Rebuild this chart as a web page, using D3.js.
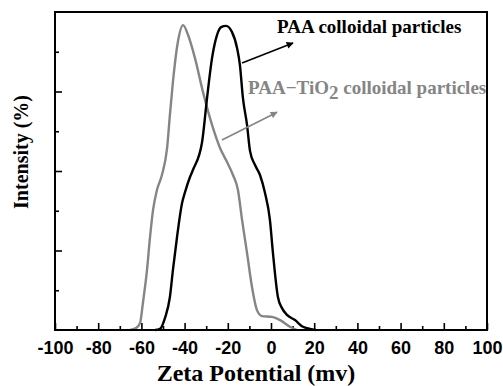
<!DOCTYPE html>
<html>
<head>
<meta charset="utf-8">
<script src="https://cdn.jsdelivr.net/npm/d3@7"></script>
<style>
body { margin: 0; background: #fff; }
</style>
</head>
<body>
<div id="chart-area"></div>
<script>
// Values (zeta potential in mv, intensity in %)
let paaX = [-53.7, -51.4, -49.1, -46.8, -45.4, -43.5, -41.2, -39.8, -37.5, -36.1, -31.9, -29.6, -27.3, -25, -23.1, -20.8,
    -18.1, -15.7, -14.4, -13, -11.1, -9.7, -7.4, -5.1, -2.8, -0.5, 0.9, 3.2, 5.1, 7.4, 11.1, 14.8, 18.1, 20.8];
let paaY = [0, 0.03, 0.3, 0.83, 1.51, 2.34, 3.19, 3.47, 3.85, 4.03, 4.73, 5.84, 6.84, 7.42, 7.62, 7.65,
    7.5, 7.09, 6.67, 5.84, 5.16, 4.5, 4.15, 3.9, 3.45, 2.77, 1.94, 0.83, 0.55, 0.38, 0.25, 0.08, 0.03, 0];

let tioX = [-65.3, -62.5, -60.6, -59.3, -57.4, -56, -54.6, -52.8, -50.5, -48.1, -46.8, -45.4, -43.1, -40.7, -38.4, -35.2,
    -31.5, -27.3, -23.6, -20.4, -17.6, -15.3, -13.4, -11.1, -8.8, -6.5, -4.2, 0.5, 4.2, 8.8, 12];
let tioY = [0, 0.05, 0.18, 0.68, 1.51, 2.34, 3.02, 3.52, 3.9, 4.58, 5.41, 6.24, 7.25, 7.67, 7.42, 6.84,
    5.99, 5.16, 4.58, 4.23, 3.9, 3.52, 2.77, 1.94, 1.08, 0.5, 0.35, 0.33, 0.25, 0.08, 0];

let xTickLabels = [-100, -80, -60, -40, -20, 0, 20, 40, 60, 80, 100];
let xMinorTicks = [-90, -70, -50, -30, -10, 10, 30, 50, 70, 90];
let yMajorTicks = [2, 4, 6];
let yMinorTicks = [1, 3, 5, 7];

// SVG drawing area
let margin = {top: 12, right: 16, bottom: 56, left: 55};
let width = 503 - margin.left - margin.right,
    height = 386 - margin.top - margin.bottom;

let root = d3.select("#chart-area").append("svg")
    .attr("width", 503)
    .attr("height", 386);

let svg = root.append("g")
    .attr("transform", "translate(" + margin.left + "," + margin.top + ")");

// Scales
let x = d3.scaleLinear().domain([-100, 100]).range([0, width]);
let y = d3.scaleLinear().domain([0, 8]).range([height, 0]);

// arrow heads
let defs = root.append("defs");
[["head-black", "#000"], ["head-gray", "#858585"]].forEach(([id, c]) => {
    defs.append("marker")
        .attr("id", id)
        .attr("viewBox", "0 0 10 10")
        .attr("refX", 9)
        .attr("refY", 5)
        .attr("markerUnits", "userSpaceOnUse")
        .attr("markerWidth", 10)
        .attr("markerHeight", 7)
        .attr("orient", "auto")
      .append("path")
        .attr("d", "M0,0 L10,5 L0,10 z")
        .attr("fill", c);
});

// Axes (ticks point inward)
let xAxis = svg.append("g")
    .attr("class", "x-axis")
    .attr("transform", `translate(0,${height})`)
    .call(d3.axisBottom(x).tickValues(xTickLabels).tickSize(-7).tickPadding(11).tickFormat(d3.format("d")));
xAxis.selectAll("text")
    .attr("font-family", "'Liberation Sans', Arial, sans-serif")
    .attr("font-weight", "bold")
    .attr("font-size", 18)
    .attr("fill", "#000")
    .text(d => d < 0 ? "-" + Math.abs(d) : d);

svg.append("g")
    .attr("transform", `translate(0,${height})`)
    .call(d3.axisBottom(x).tickValues(xMinorTicks).tickSize(-4).tickFormat(""));

svg.append("g")
    .call(d3.axisLeft(y).tickValues(yMajorTicks).tickSize(-7).tickFormat(""));
svg.append("g")
    .call(d3.axisLeft(y).tickValues(yMinorTicks).tickSize(-4).tickFormat(""));

svg.selectAll(".domain").remove();
svg.selectAll(".tick line").attr("stroke", "#000").attr("stroke-width", 1.6);

// Lines
let line = d3.line()
    .x(d => x(d[0]))
    .y(d => y(d[1]))
    .curve(d3.curveMonotoneX);

svg.append("path")
    .datum(d3.zip(tioX, tioY))
    .attr("fill", "none")
    .attr("stroke", "#858585")
    .attr("stroke-width", 2.4)
    .attr("d", line);

svg.append("path")
    .datum(d3.zip(paaX, paaY))
    .attr("fill", "none")
    .attr("stroke", "#000")
    .attr("stroke-width", 2.4)
    .attr("d", line);

// Frame
svg.append("rect")
    .attr("width", width)
    .attr("height", height)
    .attr("fill", "none")
    .attr("stroke", "#000")
    .attr("stroke-width", 2);

// Annotation arrows
svg.append("line")
    .attr("x1", x(-13.4)).attr("y1", y(6.72))
    .attr("x2", x(10.2)).attr("y2", y(7.22))
    .attr("stroke", "#000")
    .attr("stroke-width", 1.6)
    .attr("marker-end", "url(#head-black)");

svg.append("line")
    .attr("x1", x(-22.7)).attr("y1", y(4.78))
    .attr("x2", x(2.8)).attr("y2", y(5.48))
    .attr("stroke", "#858585")
    .attr("stroke-width", 1.6)
    .attr("marker-end", "url(#head-gray)");

let serif = "'Liberation Serif', 'Times New Roman', serif";

svg.append("text")
    .attr("x", x(2.8))
    .attr("y", y(7.47))
    .attr("font-family", serif)
    .attr("font-weight", "bold")
    .attr("font-size", 19)
    .attr("fill", "#000")
    .text("PAA colloidal particles");

let gl = svg.append("text")
    .attr("x", x(-10.6))
    .attr("y", y(5.94))
    .attr("font-family", serif)
    .attr("font-weight", "bold")
    .attr("font-size", 19)
    .attr("fill", "#858585");
gl.append("tspan").text("PAA\u2212TiO");
gl.append("tspan").attr("dy", 5).text("2");
gl.append("tspan").attr("dy", -5).text(" colloidal particles");

// Axis titles
root.append("text")
    .attr("x", 256)
    .attr("y", 381)
    .attr("text-anchor", "middle")
    .attr("font-family", serif)
    .attr("font-weight", "bold")
    .attr("font-size", 24)
    .text("Zeta Potential (mv)");

root.append("text")
    .attr("transform", "translate(28,152) rotate(-90)")
    .attr("text-anchor", "middle")
    .attr("font-family", serif)
    .attr("font-weight", "bold")
    .attr("font-size", 20)
    .text("Intensity (%)");
</script>
</body>
</html>
